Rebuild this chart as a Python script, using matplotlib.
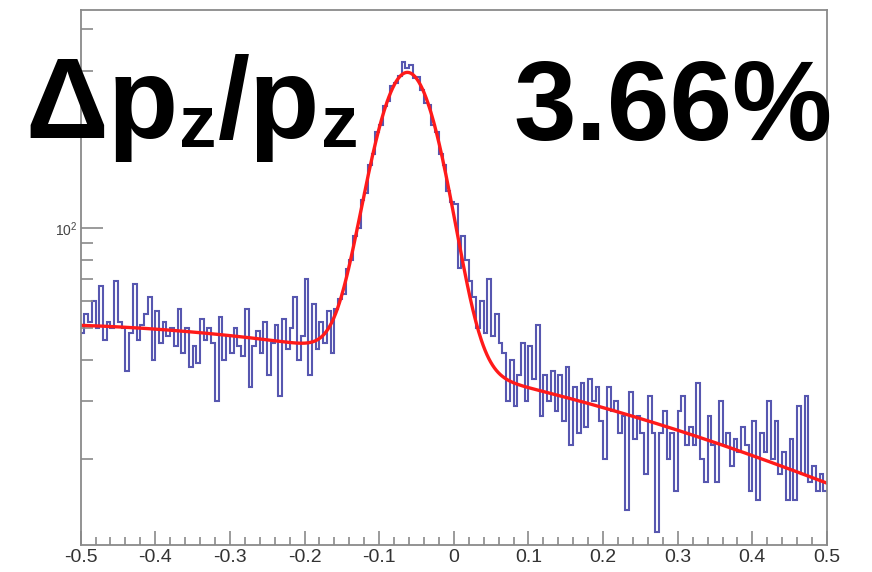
import numpy as np
import matplotlib
matplotlib.use("Agg")
import matplotlib.pyplot as plt
from matplotlib.ticker import FixedLocator, MultipleLocator, NullFormatter, FixedFormatter

# ---- data -------------------------------------------------------------
x_range = (-0.5, 0.5)

# bin contents of the dp/p histogram (200 bins over x_range)
counts_left = [48, 55, 52, 60, 50, 67, 46, 52, 50, 69, 52, 50, 37, 48, 68, 46, 51,
               55, 62, 40, 56, 45, 52, 47, 50, 44, 57, 42, 50, 38, 44, 39, 53, 46,
               50, 45, 30, 54, 40, 47, 42, 50, 44, 41, 57, 33, 44, 49, 42, 52, 36,
               45, 51, 31, 53, 43, 50, 62, 40, 47, 70, 36, 59, 43, 52, 45, 56]
counts_peak = [42, 57, 61, 63, 75, 80, 95, 100, 122, 128, 155, 168, 195, 205, 235,
               243, 270, 275, 290, 318, 305, 312, 285, 288, 262, 240, 236, 205, 196,
               168, 155, 130, 120]
counts_right = [118, 76, 95, 80, 69, 62, 50, 60, 48, 70, 47, 55, 45, 42, 30, 40, 29,
                36, 45, 30, 44, 35, 51, 27, 36, 30, 37, 28, 36, 26, 38, 22, 33, 24,
                34, 25, 35, 30, 33, 26, 20, 33, 28, 30, 24, 27, 14, 32, 23, 27, 24,
                18, 31, 24, 12, 24, 28, 20, 24, 16, 28, 31, 22, 25, 22, 34, 20, 17,
                27, 22, 17, 30, 22, 24, 19, 23, 21, 25, 22, 16, 26, 15, 24, 21, 30,
                20, 26, 18, 21, 15, 23, 15, 29, 18, 31, 17, 19, 16, 18, 16]

# fit: gaus(0) + pol3(3)
gaus_par = [257.0, -0.062, 0.039]          # constant, mean, sigma
pol3_par = [37.0, -40.43, -12.61, 26.13]   # p0, p1, p2, p3

# headline pieces: (text, is_subscript)
label_left = [("Δp", False), ("z", True), ("/p", False), ("z", True)]
label_right = "3.66%"

x_major = [-0.5, -0.4, -0.3, -0.2, -0.1, 0.0, 0.1, 0.2, 0.3, 0.4, 0.5]
x_ticklabels = ["-0.5", "-0.4", "-0.3", "-0.2", "-0.1", "0", "0.1", "0.2", "0.3", "0.4", "0.5"]
y_limits = (10.98, 458.0)

# ---- figure -----------------------------------------------------------
plt.rcParams["font.family"] = ["Liberation Sans", "DejaVu Sans"]
plt.rcParams["mathtext.fontset"] = "custom"
plt.rcParams["mathtext.rm"] = "Liberation Sans"

W, H = 872, 572
fig = plt.figure(figsize=(W / 100, H / 100), dpi=100)
ax = fig.add_axes([80.6 / W, 1 - 545 / H, (827 - 80.6) / W, (545 - 10) / H])

counts = np.array(counts_left + counts_peak + counts_right, dtype=float)
edges = np.linspace(x_range[0], x_range[1], len(counts) + 1)
ax.stairs(counts, edges, baseline=None, color="#1f1f96", lw=1.5, alpha=0.75)

xf = np.linspace(x_range[0], x_range[1], 800)
amp, mu, sig = gaus_par
fit = amp * np.exp(-0.5 * ((xf - mu) / sig) ** 2) + np.polyval(pol3_par[::-1], xf)
ax.plot(xf, fit, color="#ff1a1a", lw=2.4)

ax.set_xlim(*x_range)
ax.set_yscale("log")
ax.set_ylim(*y_limits)

frame_col = "#8a8a8a"
for side in ("left", "bottom", "right", "top"):
    ax.spines[side].set_color(frame_col)
    ax.spines[side].set_linewidth(1.3)

ax.xaxis.set_major_locator(FixedLocator(x_major))
ax.xaxis.set_major_formatter(FixedFormatter(x_ticklabels))
ax.xaxis.set_minor_locator(MultipleLocator(0.02))
ax.yaxis.set_major_locator(FixedLocator([100]))
ax.yaxis.set_major_formatter(FixedFormatter([r"$10^{2}$"]))
ax.yaxis.set_minor_locator(FixedLocator([m * d for d in (10, 100) for m in range(2, 10)]))
ax.yaxis.set_minor_formatter(NullFormatter())

ax.tick_params(axis="x", which="both", direction="in", top=False, color=frame_col,
               width=1.2, labelsize=14, labelcolor="#333333", pad=3)
ax.tick_params(axis="x", which="major", length=10)
ax.tick_params(axis="x", which="minor", length=5.5)
ax.tick_params(axis="y", which="both", direction="in", right=False, color=frame_col,
               width=1.2, labelsize=10, labelcolor="#444444", pad=2)
ax.tick_params(axis="y", which="major", length=16)
ax.tick_params(axis="y", which="minor", length=8.5)

# headline text, drawn piece by piece so the subscripts sit like ROOT's
renderer = fig.canvas.get_renderer()
x_px, base_px = 25.0, 138.0
for text, sub in label_left:
    size = 54 if sub else 83
    y_px = base_px + (9 if sub else 0)
    t = fig.text(x_px / W, 1 - y_px / H, text, fontsize=size, fontweight="bold",
                 color="black", ha="left", va="baseline")
    x_px = t.get_window_extent(renderer).x1 + 1

fig.text(513 / W, 1 - 140 / H, label_right, fontsize=81, fontweight="bold",
         color="black", ha="left", va="baseline")

fig.savefig("out.png", dpi=100)
